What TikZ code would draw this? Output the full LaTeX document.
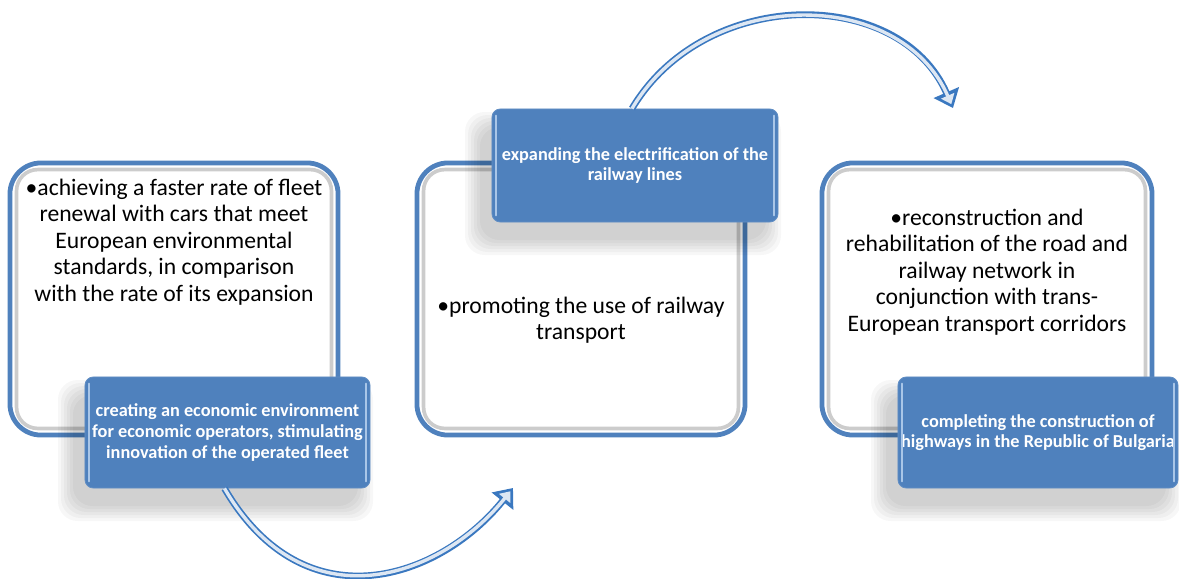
\documentclass[tikz,border=0pt]{standalone}
\usepackage{fontspec}
\setmainfont{Carlito}
\usetikzlibrary{arrows.meta}
\definecolor{obl}{HTML}{4F81BD}
\definecolor{arrb}{HTML}{3A78C0}
\definecolor{arrl}{HTML}{DDE7F3}
\definecolor{hlc}{HTML}{A9C6E8}
\tikzset{
  bigbox/.style={draw=obl, line width=3.4pt, fill=white, rounded corners=22pt,
    minimum height=6.8cm, inner sep=0pt},
  bevel/.style={draw=gray!40, line width=2.6pt, rounded corners=15pt},
  smallbox/.style={fill=obl, draw=obl!90!white, line width=0.6pt, rounded corners=6pt,
    minimum height=2.775cm, inner sep=0pt, text=white, align=center,
    font=\bfseries\fontsize{13}{14.6}\selectfont},
  softshadow/.style={fill=black, fill opacity=0.03, rounded corners=14pt},
  hl/.style={draw=hlc, line width=1.4pt, line cap=round},
  bigtext/.style={font=\fontsize{16.8}{18.8}\selectfont, align=center, text=black, inner sep=0pt},
  arrout/.style={draw=arrb, line width=4.8pt, -{Triangle[width=19pt,length=12pt]}},
  arrin/.style={draw=arrl, line width=2.4pt, -{Triangle[width=10pt,length=6.5pt]}, shorten >=3pt}
}
\newcommand{\boxshadow}[4]{% x1 y1 x2 y2 (screen px)
  \foreach \i in {0,3,...,15}{
    \fill[softshadow] (#1-12-\i,#2+18-\i) rectangle (#3-12+\i,#4+18+\i);
  }
}
\begin{document}
\begin{tikzpicture}[x=0.025cm, y=-0.025cm]
\useasboundingbox[fill=white] (0,0) rectangle (1179,579);

% big boxes
\node[bigbox, minimum width=8.2cm] (b1) at (174,299) {};
\node[bigbox, minimum width=8.2cm] (b2) at (581,299) {};
\node[bigbox, minimum width=8.25cm] (b3) at (987,299) {};
\foreach \b in {b1,b2,b3}{
  \draw[bevel] ([shift={(9,9)}]\b.north west) rectangle ([shift={(-9,-9)}]\b.south east);
}

% big texts
\node[bigtext] (t1) at (174,242) {•achieving a faster rate of fleet\\renewal with cars that meet\\European environmental\\standards, in comparison\\with the rate of its expansion};
\node[bigtext] (t2) at (581,320) {•promoting the use of railway\\transport};
\node[bigtext] (t3) at (987,272) {•reconstruction and\\rehabilitation of the road and\\railway network in\\conjunction with trans-\\European transport corridors};

% shadows of small boxes
\begin{scope}
\clip (0,0) rectangle (1179,579);
\boxshadow{85}{377}{370}{488}
\boxshadow{492}{109}{778}{222}
\boxshadow{898}{377}{1178}{488}
\end{scope}

% small boxes
\node[smallbox, minimum width=7.125cm] (s1) at (227.5,432.5) {creating an economic environment\\for economic operators, stimulating\\innovation of the operated fleet};
\node[smallbox, minimum width=7.15cm, minimum height=2.825cm] (s2) at (635,165.5) {expanding the electrification of the\\railway lines};
\node[smallbox, minimum width=7cm] (s3) at (1038,432.5) {completing the construction of\\highways in the Republic of Bulgaria};
\foreach \s in {s1,s2,s3}{
  \draw[hl] ([shift={(4,7)}]\s.north west) -- ([shift={(4,-7)}]\s.south west);
  \draw[hl] ([shift={(-4,7)}]\s.north east) -- ([shift={(-4,-7)}]\s.south east);
}

% arrows
\coordinate (e1) at (513,488);
\coordinate (e2) at (953,108);
\draw[arrout] ([shift={(-3,0)}]s1.south) .. controls (305,626) and (440,579) .. (e1);
\draw[arrin]  ([shift={(-3,0)}]s1.south) .. controls (305,626) and (440,579) .. (e1);
\draw[arrout] ([shift={(-3,0)}]s2.north) .. controls (705,-14) and (900,-14) .. (e2);
\draw[arrin]  ([shift={(-3,0)}]s2.north) .. controls (705,-14) and (900,-14) .. (e2);
\end{tikzpicture}
\end{document}
